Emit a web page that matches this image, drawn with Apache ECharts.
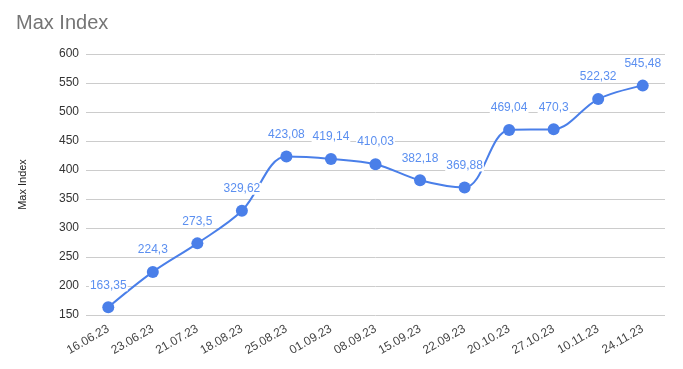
<!DOCTYPE html>
<html><head><meta charset="utf-8">
<script src="https://cdn.jsdelivr.net/npm/echarts@6/dist/echarts.min.js"></script>
<style>html,body{margin:0;padding:0;background:#fff}#c{width:683px;height:369px}</style>
</head><body><div id="c"></div>
<script>
const categories = ['16.06.23','23.06.23','21.07.23','18.08.23','25.08.23','01.09.23','08.09.23','15.09.23','22.09.23','20.10.23','27.10.23','10.11.23','24.11.23'];
const values = [163.35,224.3,273.5,329.62,423.08,419.14,410.03,382.18,369.88,469.04,470.3,522.32,545.48];
const yTicks = {min:150, max:600, interval:50};
const chart = echarts.init(document.getElementById('c'), null, {renderer:'canvas'});
chart.setOption({
  animation:false,
  title:{text:'Max Index', left:11, top:8, textStyle:{fontFamily:'Arial, Liberation Sans, sans-serif', fontSize:20, fontWeight:'normal', color:'#757575'}},
  grid:{left:86, right:18, top:54, bottom:54},
  xAxis:{type:'category', data:categories, boundaryGap:true,
    axisLine:{show:false}, axisTick:{show:false},
    axisLabel:{rotate:30, fontSize:12, color:'#444', fontFamily:'Arial, Liberation Sans, sans-serif', margin:13, interval:0}},
  yAxis:{type:'value', min:yTicks.min, max:yTicks.max, interval:yTicks.interval,
    name:'Max Index', nameLocation:'middle', nameGap:58, nameRotate:90,
    nameTextStyle:{fontSize:11, color:'#222', fontFamily:'Arial, Liberation Sans, sans-serif'},
    axisLine:{show:false}, axisTick:{show:false},
    axisLabel:{fontSize:12, color:'#333', fontFamily:'Arial, Liberation Sans, sans-serif', margin:7},
    splitLine:{lineStyle:{color:'#cccccc', width:1}}},
  series:[{type:'line', data:values, smooth:0.35, symbol:'circle', symbolSize:12,
    lineStyle:{color:'#4a7fe9', width:2}, itemStyle:{color:'#4a7fe9'},
    label:{show:true, position:'top', distance:10, fontSize:12, color:'#5b8ff0', fontFamily:'Arial, Liberation Sans, sans-serif',
      backgroundColor:'#fff', padding:[0,1],
      formatter:p=>String(p.value).replace('.',',')}}]
});
</script></body></html>
